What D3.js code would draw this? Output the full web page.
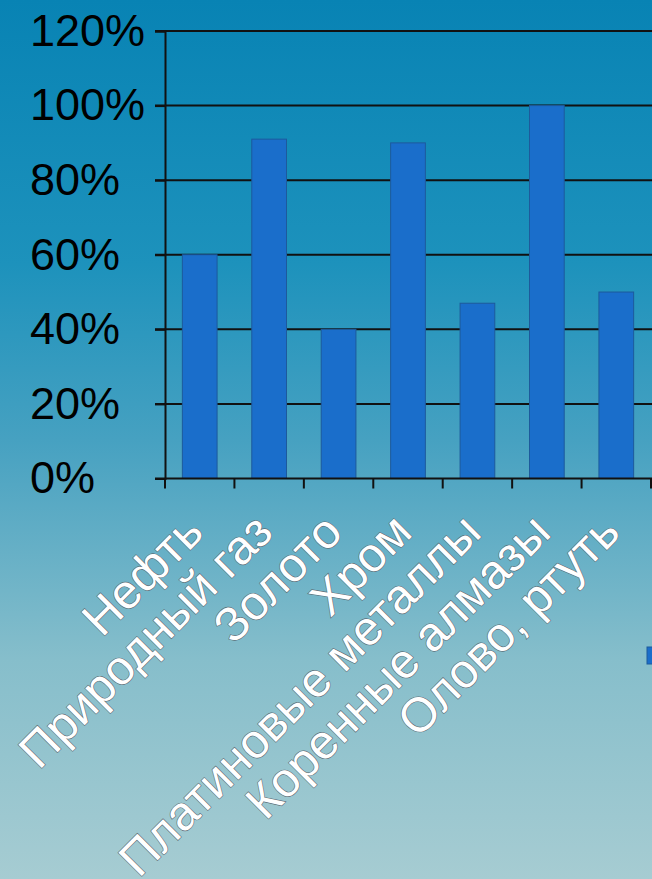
<!DOCTYPE html>
<html>
<head>
<meta charset="utf-8">
<script src="https://cdn.jsdelivr.net/npm/d3@7"></script>
<style>
    html, body { margin: 0; padding: 0; overflow: hidden; }
    svg { display: block; }
</style>
</head>
<body>
<div id="chart"></div>
<script>
const width = 652;
const height = 879;

const categories = ['Нефть', 'Природный газ', 'Золото', 'Хром',
    'Платиновые металлы', 'Коренные алмазы', 'Олово, ртуть'];
const shares = [60, 91, 40, 90, 47, 100, 50];
const yTicks = [0, 20, 40, 60, 80, 100, 120];

const margin = { left: 165, right: 1, top: 31, bottom: 400 };
const font = '"Liberation Sans", Arial, sans-serif';

const svg = d3.select('#chart').append('svg')
    .attr('width', width)
    .attr('height', height);

// background gradient
const defs = svg.append('defs');
const grad = defs.append('linearGradient')
    .attr('id', 'bg')
    .attr('x1', 0).attr('y1', 0)
    .attr('x2', 0).attr('y2', 1);
[[0, '#0883b4'], [0.3, '#1d92bc'], [0.5, '#46a1c1'], [0.75, '#86becb'], [1, '#a6ccd2']]
    .forEach(s => grad.append('stop').attr('offset', s[0]).attr('stop-color', s[1]));

svg.append('rect')
    .attr('width', width)
    .attr('height', height)
    .style('fill', 'url(#bg)');

const x = d3.scaleBand()
    .domain(categories)
    .range([margin.left, width - margin.right])
    .paddingInner(0.5)
    .paddingOuter(0.25);

const y = d3.scaleLinear()
    .domain([0, 120])
    .range([height - margin.bottom - 0.5, margin.top]);

// gridlines
svg.append('g')
    .selectAll('line')
    .data(yTicks.filter(t => t > 0))
    .join('line')
    .attr('x1', margin.left - 10)
    .attr('x2', width)
    .attr('y1', d => y(d))
    .attr('y2', d => y(d))
    .style('stroke', '#111')
    .style('stroke-width', 2);

// bars
svg.append('g')
    .selectAll('rect')
    .data(shares)
    .join('rect')
    .attr('x', (d, i) => x(categories[i]))
    .attr('y', d => y(d))
    .attr('width', x.bandwidth())
    .attr('height', d => y(0) - y(d))
    .style('fill', '#1a6ecb')
    .style('stroke', '#1d5a9c')
    .style('stroke-width', 1);

// y axis, labels left aligned
const yAxis = svg.append('g')
    .attr('transform', `translate(${margin.left},0)`)
    .call(d3.axisLeft(y).tickValues(yTicks).tickFormat(d => d + '%').tickSize(10));
yAxis.select('.domain').style('stroke', '#111').style('stroke-width', 2);
yAxis.selectAll('.tick line').style('stroke', '#111').style('stroke-width', 2);
yAxis.selectAll('.tick text')
    .attr('x', 30 - margin.left)
    .attr('text-anchor', 'start')
    .style('font-family', font)
    .style('font-size', '45px')
    .style('fill', '#000');

// x axis (ticks between categories)
const step = x.step();
const tickPos = d3.range(categories.length + 1).map(i => margin.left + i * step);
svg.append('line')
    .attr('x1', margin.left - 10)
    .attr('x2', width)
    .attr('y1', y(0))
    .attr('y2', y(0))
    .style('stroke', '#111')
    .style('stroke-width', 2);
svg.append('g')
    .selectAll('line')
    .data(tickPos)
    .join('line')
    .attr('x1', d => d)
    .attr('x2', d => d)
    .attr('y1', y(0))
    .attr('y2', y(0) + 10)
    .style('stroke', '#111')
    .style('stroke-width', 2);

// category labels, rotated and outlined
svg.append('g')
    .selectAll('text')
    .data(categories)
    .join('text')
    .attr('transform', d => `translate(${x(d) + x.bandwidth() / 2 + 6},${y(0) + 56}) rotate(-45)`)
    .attr('text-anchor', 'end')
    .style('font-family', font)
    .style('font-size', '48px')
    .style('fill', '#fff')
    .style('stroke', '#5b6b74')
    .style('stroke-width', 1.2)
    .style('paint-order', 'stroke')
    .text(d => d);

// legend key (mostly outside the frame)
svg.append('rect')
    .attr('x', 647)
    .attr('y', 647)
    .attr('width', 17)
    .attr('height', 17)
    .style('fill', '#1a6ecb')
    .style('stroke', '#1d5a9c');
</script>
</body>
</html>
